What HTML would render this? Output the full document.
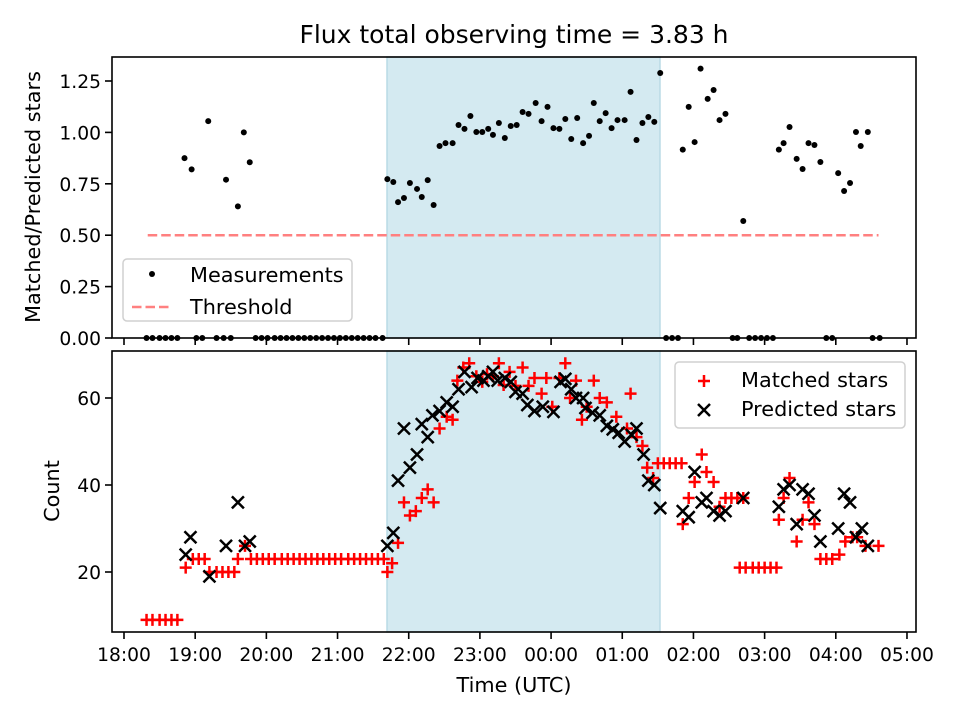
<!DOCTYPE html>
<html><head><meta charset="utf-8"><style>
html,body{margin:0;padding:0;background:#fff}
svg{display:block;font-family:"DejaVu Sans","Liberation Sans",sans-serif}
</style></head><body>
<svg id="chart" width="960" height="720" viewBox="0 0 960 720" xmlns="http://www.w3.org/2000/svg">
<text x="514" y="43" font-size="25" text-anchor="middle">Flux total observing time = 3.83 h</text>
<g id="topPanel"></g>
<g id="botPanel"></g>
<text x="514" y="692" font-size="20.8" text-anchor="middle">Time (UTC)</text>
<text transform="translate(40,197) rotate(-90)" font-size="20.8" text-anchor="middle">Matched/Predicted stars</text>
<text transform="translate(59,491) rotate(-90)" font-size="20.8" text-anchor="middle">Count</text>
</svg>
<script>
// data: time in minutes after 18:00
const shadeStart = 221.7, shadeEnd = 451.8;
const ratioTimes = [51,57,71,86,96,101,106,
222,227,231,236,241,247,251,256,261,266,271,277,282,287,292,297,302,307,311,316,321,326,331,336,341,347,352,357,362,367,372,377,382,387,392,396,401,406,411,416,422,427,432,437,442,447,452,
471,476,481,486,492,497,502,507,522,552,556,561,567,572,577,582,587,602,607,612,617,621,627];
const ratioValues = [0.875,0.82,1.055,0.77,0.64,1.0,0.855,
0.773,0.759,0.661,0.681,0.754,0.725,0.686,0.768,0.647,0.934,0.948,0.948,1.036,1.017,1.08,1.002,1.002,1.017,0.988,1.046,0.973,1.031,1.036,1.099,1.09,1.143,1.055,1.124,1.021,1.017,1.065,0.968,1.07,0.948,0.983,1.143,1.055,1.094,1.021,1.06,1.06,1.197,0.963,1.046,1.075,1.051,1.289,
0.916,1.124,0.953,1.31,1.163,1.206,1.06,1.09,0.569,0.916,0.948,1.026,0.871,0.822,0.948,0.939,0.856,0.802,0.715,0.754,1.002,0.934,1.002];
const zeroTimes = [19,24,30,35,40,45,61,66,78,84,90,111,116,121,127,132,137,142,147,152,157,162,167,172,177,182,187,192,197,202,207,212,218,457,462,467,513,517,527,532,537,542,547,592,597,631,637];
const thresholdValue = 0.5, thresholdStart = 20, thresholdEnd = 636;
const matchedTimes = [19,24,30,35,40,45,52,58,63,68,72,78,83,88,93,96,102,
107,112,117,122,127,133,138,143,148,153,158,163,168,173,178,183,189,194,199,204,209,214,219,
222,226,231,236,241,246,251,256,261,266,272,277,281,286,291,297,302,306,311,316,320,325,330,336,341,346,352,356,361,367,372,376,381,386,390,396,401,407,415,424,427,432,437,441,446,
450,455,460,465,470,487,491,481,497,476,471,502,507,512,517,522,552,556,561,567,572,577,582,587,592,597,603,608,614,618,625,636,519,524,530,535,540,545,550];
const matchedValues = [9,9,9,9,9,9,21,23,23,23,20,20,20,20,20,23,26,
23,23,23,23,23,23,23,23,23,23,23,23,23,23,23,23,23,23,23,23,23,23,23,
20,22,26.7,36,33,34,37,39,36,53,55.7,55,64,67,68,65,63.7,65.5,65,68,63,66,62.8,67,62.8,64.6,61,64.6,58,64.6,68,60,64,55,58,64,60,59,55.7,53,61,51,49,44,41.6,
45,45,45,45,45,47,43,40.7,40.7,37,31,35,37,37,37,37,32,37,41.6,27,32,36,31,23,23,23,24,27,28,28,26,26,21,21,21,21,21,21,21];
const predictedTimes = [52,56,72,86,96,102,106,222,227,231,236,241,247,251,256,260,266,272,277,282,287,293,298,303,307,311,315,321,326,330,336,340,346,353,362,368,372,377,381,387,389,395,401,407,412,417,422,428,432,438,442,447,452,
471,476,481,487,491,497,502,507,522,552,556,561,567,572,577,582,587,602,607,612,617,622,627];
const predictedValues = [24,28,19,26,36,26,27,26,29,41,53,44,47,54,51,56,57,59,58,62,66,62.5,64.6,64,65,66,64,64.6,63.7,61.4,61,58.4,57,58,56.8,63.7,64.4,62,60,60,57.7,56.6,56,53.6,52.8,52,50,51.5,53,47,41,40,34.7,
34,32.6,43,36,37,34,33,34,37,35,39,40,31,39,38,33,27,30,38,36,28,30,26];
const xTickLabels = ['18:00','19:00','20:00','21:00','22:00','23:00','00:00','01:00','02:00','03:00','04:00','05:00'];
const topYTicks = [0,0.25,0.5,0.75,1.0,1.25];
const botYTicks = [20,40,60];

const NS='http://www.w3.org/2000/svg';
const L=112,R=916, T1=57,B1=338, T2=351,B2=632;
const xs = m => 124 + m*71.18/60;
const y1 = v => 338 - v*205.6;
const y2 = c => 572 - (c-20)*4.35;
function mk(tag, attrs, parent){const e=document.createElementNS(NS,tag);for(const k in attrs)e.setAttribute(k,attrs[k]);parent.appendChild(e);return e;}
const topG=document.getElementById('topPanel'), botG=document.getElementById('botPanel');

[[topG,T1,B1],[botG,T2,B2]].forEach(([g,t,b])=>{
  const r=mk('rect',{x:xs(shadeStart),y:t,width:xs(shadeEnd)-xs(shadeStart),height:b-t,fill:'#d4eaf1',stroke:'#b9dbe6','stroke-width':1.5},g);
  
  
});
const th=mk('line',{x1:xs(thresholdStart),x2:xs(thresholdEnd),y1:y1(thresholdValue),y2:y1(thresholdValue),stroke:'#ff8080','stroke-width':2.5,'stroke-dasharray':'9.5,4'},topG);


ratioTimes.forEach((t,i)=>{
  const c=mk('circle',{cx:xs(t),cy:y1(ratioValues[i]),r:3,fill:'#000'},topG);
  
  
});
zeroTimes.forEach(t=>{
  const c=mk('circle',{cx:xs(t),cy:y1(0),r:3,fill:'#000'},topG);
  
  
});
function plus(g,x,y,s){return mk('path',{d:`M${x-s},${y}H${x+s}M${x},${y-s}V${y+s}`,stroke:'#f00','stroke-width':2.5,fill:'none'},g);}
function cross(g,x,y,s){return mk('path',{d:`M${x-s},${y-s}L${x+s},${y+s}M${x-s},${y+s}L${x+s},${y-s}`,stroke:'#000','stroke-width':2.5,fill:'none'},g);}
matchedTimes.forEach((t,i)=>{
  const p=plus(botG,xs(t),y2(matchedValues[i]),6);
  
  
});
predictedTimes.forEach((t,i)=>{
  const p=cross(botG,xs(t),y2(predictedValues[i]),6);
  
  
});
[[topG,T1,B1],[botG,T2,B2]].forEach(([g,t,b])=>{
  const f=mk('rect',{x:L,y:t,width:R-L,height:b-t,fill:'none',stroke:'#000','stroke-width':1.6},g);
  
  
});
xTickLabels.forEach((lab,i)=>{
  const x=xs(i*60);
  const a=mk('line',{x1:x,x2:x,y1:B1,y2:B1+7,stroke:'#000','stroke-width':1.6},topG);
  
  
  const b=mk('line',{x1:x,x2:x,y1:B2,y2:B2+7,stroke:'#000','stroke-width':1.6},botG);
  
  
  const tx=mk('text',{x:x,y:B2+29,'font-size':18.7,'text-anchor':'middle'},botG);
  tx.textContent=lab;
  
  
});
topYTicks.forEach(v=>{
  const y=y1(v);
  const a=mk('line',{x1:L-7,x2:L,y1:y,y2:y,stroke:'#000','stroke-width':1.6},topG);
  
  
  const tx=mk('text',{x:L-11,y:y+7,'font-size':18.7,'text-anchor':'end'},topG);
  tx.textContent=v.toFixed(2);
  
  
});
botYTicks.forEach(v=>{
  const y=y2(v);
  const a=mk('line',{x1:L-7,x2:L,y1:y,y2:y,stroke:'#000','stroke-width':1.6},botG);
  
  
  const tx=mk('text',{x:L-11,y:y+7,'font-size':18.7,'text-anchor':'end'},botG);
  tx.textContent=String(v);
  
  
});
const lg1=mk('g',{},topG);


mk('rect',{x:123,y:259,width:229,height:62,rx:4,fill:'#fff','fill-opacity':0.8,stroke:'#d0d0d0','stroke-width':1.5},lg1);
mk('circle',{cx:152,cy:274,r:3,fill:'#000'},lg1);
let t1=mk('text',{x:190,y:282,'font-size':20.8},lg1);t1.textContent='Measurements';


mk('line',{x1:132,x2:172,y1:307,y2:307,stroke:'#ff8080','stroke-width':2.5,'stroke-dasharray':'9.5,4'},lg1);
let t2=mk('text',{x:190,y:314,'font-size':20.8},lg1);t2.textContent='Threshold';



const lg2=mk('g',{},botG);


mk('rect',{x:675,y:362,width:230,height:66,rx:4,fill:'#fff','fill-opacity':0.8,stroke:'#d0d0d0','stroke-width':1.5},lg2);
plus(lg2,704,381,6);
let t3=mk('text',{x:741,y:387,'font-size':20.8},lg2);t3.textContent='Matched stars';


cross(lg2,704,410,6);
let t4=mk('text',{x:741,y:416,'font-size':20.8},lg2);t4.textContent='Predicted stars';


</script>
</body></html>
